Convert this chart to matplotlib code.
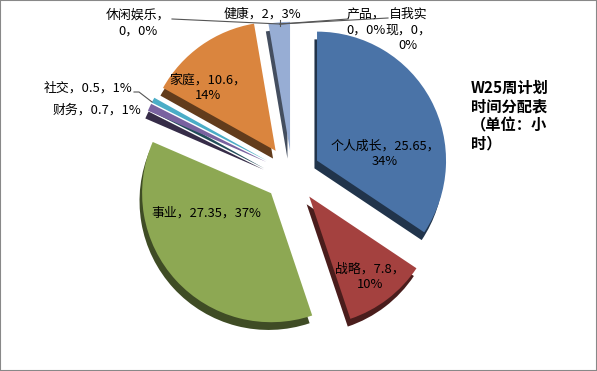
import numpy as np
import matplotlib.pyplot as plt
from matplotlib.colors import to_rgb
from matplotlib.patches import Rectangle

plt.rcParams['font.family'] = ['Noto Sans CJK SC', 'DejaVu Sans']

names = ['个人成长', '战略', '事业', '财务', '社交', '家庭', '休闲娱乐', '健康', '产品', '自我实现']
hours = [25.65, 7.8, 27.35, 0.7, 0.5, 10.6, 0, 2, 0, 0]
colors = ['#4A73A7', '#A4413F', '#8DA853', '#7962A0', '#4BADC7', '#DA853E',
          '#8F8F8F', '#97ADD4', '#8F8F8F', '#8F8F8F']

total = sum(hours)
pcts = [round(h / total * 100) for h in hours]

W, H = 597, 371
cx, cy, R = 292, 174, 129

def P(px, py):
    return (px - cx) / R, (cy - py) / R

fig = plt.figure(figsize=(W / 100, H / 100), dpi=100)
ax = fig.add_axes([0, 0, 1, 1])

explode = [0.22] * len(hours)
explode[7] = 0.18
dark = [tuple(c * 0.45 for c in to_rgb(col)) for col in colors]

# depth (3D side walls)
ax.pie(hours, colors=dark, explode=explode, startangle=90, counterclock=False,
       center=(-0.02, -0.06), wedgeprops=dict(linewidth=0))
ax.pie(hours, colors=colors, explode=explode, startangle=90, counterclock=False,
       wedgeprops=dict(linewidth=0))

ax.set_xlim(-cx / R, (W - cx) / R)
ax.set_ylim(-(H - cy) / R, cy / R)
ax.set_aspect('equal')
ax.axis('off')

def lab(i):
    return f'{names[i]}，{hours[i]:g}，{pcts[i]}%'

fs = 9.3
# label positions in pixels
ax.text(*P(385, 154), f'{names[0]}，{hours[0]:g}，\n{pcts[0]}%', fontsize=fs,
        ha='center', va='center', linespacing=1.25)
ax.text(*P(370, 277), f'{names[1]}，{hours[1]:g}，\n{pcts[1]}%', fontsize=fs,
        ha='center', va='center', linespacing=1.25)
ax.text(*P(206, 213), lab(2), fontsize=fs, ha='center', va='center')
ax.text(*P(141, 110), lab(3), fontsize=fs, ha='right', va='center')
ax.text(*P(132, 88), lab(4), fontsize=fs, ha='right', va='center')
ax.text(*P(208, 88), f'{names[5]}，{hours[5]:g}，\n{pcts[5]}%', fontsize=fs,
        ha='center', va='center', linespacing=1.25)
ax.text(*P(138, 23), f'{names[6]}，\n{hours[6]:g}，{pcts[6]}%', fontsize=fs,
        ha='center', va='center', linespacing=1.25)
ax.text(*P(262, 14), lab(7), fontsize=fs, ha='center', va='center')
ax.text(*P(366, 22), f'{names[8]}，\n{hours[8]:g}，{pcts[8]}%', fontsize=fs,
        ha='center', va='center', linespacing=1.25)
ax.text(*P(408, 30), '自我实\n现，0，\n0%', fontsize=fs,
        ha='center', va='center', linespacing=1.25)

# leader lines
lc, lw = '#555555', 0.8
for pts in ([(172, 19), (280, 24)], [(280, 24), (348, 19)], [(280, 24), (388, 18)],
            [(280, 20), (280, 26)], [(134, 92), (139, 92), (152, 102)]):
    xs, ys = zip(*[P(*p) for p in pts])
    ax.plot(xs, ys, color=lc, lw=lw)

fig.text(471 / W, 1 - 80 / H, 'W25周计划\n时间分配表\n（单位：小\n时）', fontsize=11,
         fontweight='bold', ha='left', va='top', linespacing=1.2)

fig.patches.append(Rectangle((0, 0), 1, 1, transform=fig.transFigure, fill=False,
                             edgecolor='#888888', lw=1.5))

fig.savefig('out.png', dpi=100)
